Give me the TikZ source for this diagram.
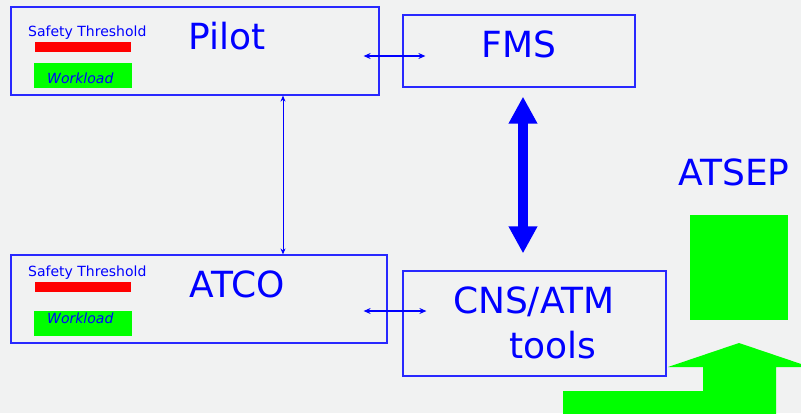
\documentclass[tikz,border=0pt]{standalone}
\usepackage{fontspec}
\setmainfont{DejaVu Sans}
\usepackage{tikz}
\usetikzlibrary{arrows.meta, positioning, calc}
\definecolor{myblue}{RGB}{0,0,255}
\definecolor{boxblue}{RGB}{40,40,255}
\definecolor{mygreen}{RGB}{0,255,0}
\definecolor{myred}{RGB}{255,0,0}
\definecolor{mybg}{RGB}{241,242,242}
\tikzset{
  panel/.style={rectangle, draw=boxblue, color=boxblue, line width=1.2pt, inner sep=0pt},
  title/.style={anchor=base, text=myblue, font=\fontsize{36}{40}\selectfont},
  small/.style={anchor=base west, text=myblue, inner sep=0pt,
    font=\fontsize{14}{16}\selectfont},
  thinarrow/.style={{Stealth[length=7pt,width=6pt]}-{Stealth[length=7pt,width=6pt]},
    color=myblue, line width=2pt},
  vertarrow/.style={{Stealth[length=6pt,width=5pt]}-{Stealth[length=6pt,width=5pt]},
    color=myblue, line width=1pt},
  bigarrow/.style={{Triangle[length=27pt,width=27pt]}-{Triangle[length=27pt,width=27pt]},
    color=myblue, line width=9.5pt}
}

\begin{document}
\begin{tikzpicture}[x=1pt, y=-1pt]
  % Background
  \fill[mybg] (0,0) rectangle (801,413);
  \useasboundingbox (0,0) rectangle (801,413);

  % Boxes
  \node[panel, minimum width=368pt, minimum height=88pt] (pilot) at (195,51) {};
  \node[panel, minimum width=232pt, minimum height=72pt] (fms) at (519,51) {};
  \node[panel, minimum width=376pt, minimum height=88pt] (atco) at (199,299) {};
  \node[panel, minimum width=263pt, minimum height=105pt] (cns) at (534.5,323.5) {};

  % Titles
  \node[title] (pilottxt) at (227,49) {Pilot};
  \node[title] (fmstxt) at (519,57) {FMS};
  \node[title] (atcotxt) at (237,297) {ATCO};
  \node[title] (cnstxt) at (534,313) {CNS/ATM};
  \node[title] (toolstxt) at (553,358) {tools};
  \node[title] (atseptxt) at (734,185) {ATSEP};

  % Threshold and workload bars
  \foreach \y/\n in {0/pilot, 240/atco} {
    \node[small] (thr\n) at (28,36+\y) {Safety Threshold};
    \fill[myred] (35,42+\y) rectangle (131,52+\y);
    \fill[mygreen] (34,63+\y+8*\y/240) rectangle (132,88+\y+8*\y/240);
    \node[small, font=\fontsize{14}{16}\selectfont\itshape] (wl\n) at (47,83+\y) {Workload};
  }

  % ATSEP block
  \fill[mygreen] (690,215) rectangle (788,320);
  \begin{scope}
    \clip (0,0) rectangle (801,413);
    \fill[mygreen] (563,420) -- (563,391) -- (703,391) -- (703,367) -- (668,367)
      -- (739,343) -- (810,367) -- (776,367) -- (776,420) -- cycle;
  \end{scope}

  % Connections
  \draw[thinarrow] ([xshift=-16pt,yshift=-5pt]pilot.east)
    -- ([xshift=23pt,yshift=-5pt]pilot.east -| fms.west);
  \draw[thinarrow] ([xshift=-24pt,yshift=-12pt]atco.east)
    -- ([xshift=24pt,yshift=-12pt]atco.east -| cns.west);
  \draw[vertarrow] ([xshift=88pt]pilot.south) -- ([xshift=88pt]pilot.south |- atco.north);
  \draw[bigarrow, shorten <=9pt, shorten >=17pt] ([xshift=4pt]fms.south)
    -- ([xshift=4pt]fms.south |- cns.north);
\end{tikzpicture}
\end{document}
